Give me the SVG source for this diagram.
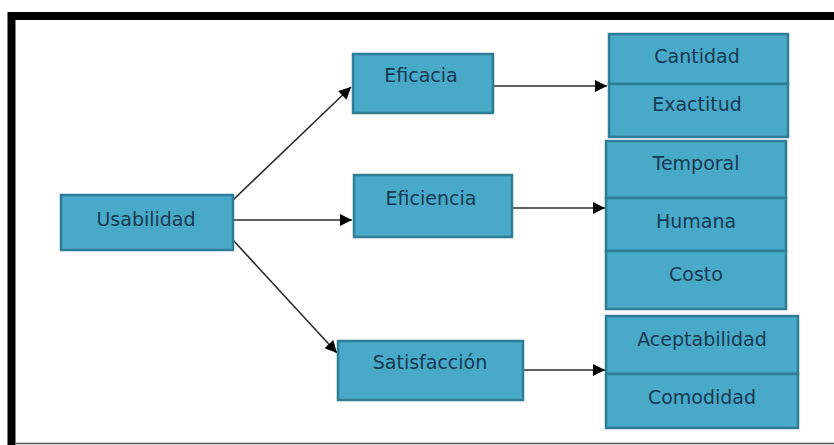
<svg xmlns="http://www.w3.org/2000/svg" width="834" height="445" viewBox="0 0 834 445">
<style>
.box{fill:#49a9c8;stroke:#2f7c96;stroke-width:2.5}
.t{font-family:"DejaVu Sans","Liberation Sans",sans-serif;font-size:19px;fill:#163a55;text-anchor:middle;dominant-baseline:central}
.c{stroke:#2a2a2a;stroke-width:1.6;fill:none;marker-end:url(#ah)}
</style>
<defs>
<marker id="ah" viewBox="0 0 10 10" refX="10" refY="5" markerWidth="13" markerHeight="12" markerUnits="userSpaceOnUse" orient="auto"><path d="M0,0 L10,5 L0,10 z" fill="#000"/></marker>
</defs>
<rect x="0" y="0" width="834" height="445" fill="#fff"/>
<path d="M11.5,445 V16 H834" fill="none" stroke="#000" stroke-width="8"/>
<line x1="15" y1="443.5" x2="834" y2="443.5" stroke="#555" stroke-width="1.5"/>
<g id="connectors">
<line class="c" x1="233" y1="200" x2="351" y2="87"/>
<line class="c" x1="233" y1="220" x2="352" y2="220"/>
<line class="c" x1="233" y1="240" x2="337" y2="353"/>
<line class="c" x1="493" y1="86" x2="607" y2="86"/>
<line class="c" x1="512" y1="208" x2="605" y2="208"/>
<line class="c" x1="523" y1="370" x2="605" y2="370"/>
</g>
<g id="usabilidad"><rect class="box" x="61" y="195" width="172" height="55"/><text class="t" x="146" y="219">Usabilidad</text></g>
<g id="eficacia"><rect class="box" x="353" y="54" width="140" height="59"/><text class="t" x="421" y="75">Eficacia</text></g>
<g id="eficiencia"><rect class="box" x="354" y="175" width="158" height="62"/><text class="t" x="431" y="198">Eficiencia</text></g>
<g id="satisfaccion"><rect class="box" x="338" y="341" width="185" height="59"/><text class="t" x="430" y="362">Satisfacción</text></g>
<g id="cantidad"><rect class="box" x="609" y="34" width="179" height="50"/><text class="t" x="697" y="56">Cantidad</text></g>
<g id="exactitud"><rect class="box" x="609" y="84" width="179" height="53"/><text class="t" x="697" y="104">Exactitud</text></g>
<g id="temporal"><rect class="box" x="606" y="141" width="180" height="57"/><text class="t" x="696" y="163">Temporal</text></g>
<g id="humana"><rect class="box" x="606" y="198" width="180" height="53"/><text class="t" x="696" y="221">Humana</text></g>
<g id="costo"><rect class="box" x="606" y="251" width="180" height="58"/><text class="t" x="696" y="274">Costo</text></g>
<g id="aceptabilidad"><rect class="box" x="606" y="316" width="192" height="58"/><text class="t" x="702" y="339">Aceptabilidad</text></g>
<g id="comodidad"><rect class="box" x="606" y="374" width="192" height="54"/><text class="t" x="702" y="397">Comodidad</text></g>
</svg>
